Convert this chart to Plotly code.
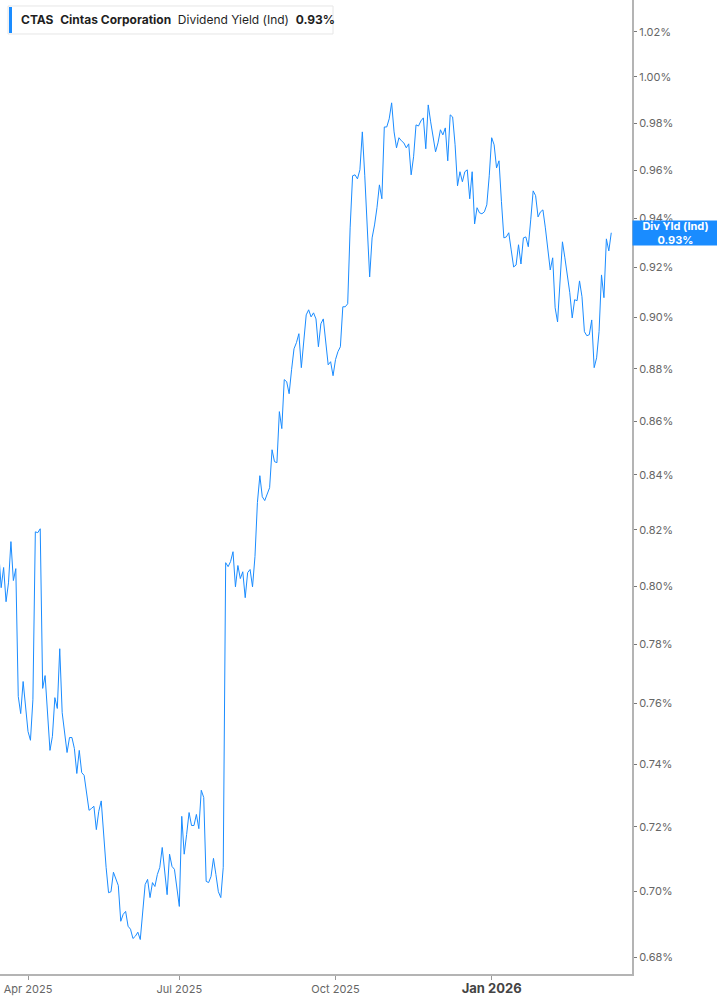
import numpy as np
import pandas as pd
import plotly.graph_objects as go

# US market holidays in the window (trading-day axis)
holidays = ['2025-04-18', '2025-05-26', '2025-06-19', '2025-07-04', '2025-09-01',
            '2025-11-27', '2025-12-25', '2026-01-01', '2026-01-19', '2026-02-16']
dates = pd.bdate_range('2025-03-14', '2026-03-16', freq='C', holidays=holidays)

# dividend yield (%), one value per trading day
div_yield = [
    0.8120, 0.7995, 0.8066, 0.7946, 0.8012, 0.8158, 0.8020, 0.8062, 0.7623, 0.7566,
    0.7673, 0.7589, 0.7507, 0.7478, 0.7612, 0.8193, 0.8190, 0.8204, 0.7650, 0.7693,
    0.7569, 0.7445, 0.7491, 0.7619, 0.7583, 0.7784, 0.7569, 0.7504, 0.7438, 0.7487,
    0.7487, 0.7451, 0.7370, 0.7445, 0.7373, 0.7364, 0.7309, 0.7252, 0.7258, 0.7265,
    0.7191, 0.7249, 0.7282, 0.7160, 0.7073, 0.6995, 0.6998, 0.7058, 0.7039, 0.7017,
    0.6908, 0.6929, 0.6938, 0.6893, 0.6884, 0.6856, 0.6863, 0.6875, 0.6853, 0.6950,
    0.7020, 0.7036, 0.6980, 0.7026, 0.7014, 0.7051, 0.7073, 0.7135, 0.7058, 0.6989,
    0.7114, 0.7076, 0.7067, 0.7005, 0.6953, 0.7233, 0.7114, 0.7176, 0.7245, 0.7204,
    0.7204, 0.7239, 0.7194, 0.7316, 0.7293, 0.7030, 0.7026, 0.7045, 0.7101, 0.7051,
    0.6998, 0.6980, 0.7073, 0.8083, 0.8069, 0.8087, 0.8122, 0.7998, 0.8073, 0.8027,
    0.8051, 0.7960, 0.8048, 0.8059, 0.7998, 0.8105, 0.8299, 0.8397, 0.8320, 0.8306,
    0.8331, 0.8353, 0.8493, 0.8449, 0.8445, 0.8636, 0.8572, 0.8758, 0.8750, 0.8704,
    0.8796, 0.8877, 0.8901, 0.8936, 0.8804, 0.8912, 0.9010, 0.9030, 0.9002, 0.9018,
    0.8994, 0.8885, 0.8975, 0.8994, 0.8905, 0.8815, 0.8827, 0.8773, 0.8835, 0.8866,
    0.8885, 0.9042, 0.9042, 0.9054, 0.9360, 0.9576, 0.9580, 0.9563, 0.9601, 0.9762,
    0.9576, 0.9360, 0.9161, 0.9319, 0.9372, 0.9443, 0.9538, 0.9480, 0.9783, 0.9783,
    0.9818, 0.9887, 0.9762, 0.9694, 0.9737, 0.9724, 0.9715, 0.9694, 0.9711, 0.9580,
    0.9656, 0.9792, 0.9787, 0.9809, 0.9822, 0.9690, 0.9878, 0.9805, 0.9749, 0.9677,
    0.9715, 0.9771, 0.9749, 0.9779, 0.9639, 0.9835, 0.9826, 0.9707, 0.9534, 0.9593,
    0.9551, 0.9593, 0.9601, 0.9480, 0.9593, 0.9376, 0.9443, 0.9422, 0.9418, 0.9426,
    0.9455, 0.9576, 0.9737, 0.9707, 0.9609, 0.9639, 0.9468, 0.9319, 0.9323, 0.9340,
    0.9270, 0.9201, 0.9209, 0.9291, 0.9213, 0.9319, 0.9323, 0.9283, 0.9393, 0.9513,
    0.9493, 0.9405, 0.9426, 0.9434, 0.9360, 0.9262, 0.9189, 0.9238, 0.9038, 0.8982,
    0.9169, 0.9303, 0.9238, 0.9161, 0.9098, 0.8998, 0.9070, 0.9066, 0.9145, 0.9082,
    0.8944, 0.8928, 0.8932, 0.8990, 0.8804, 0.8842, 0.8944, 0.9169, 0.9078, 0.9315,
    0.9266, 0.9340,
]

y_ticks = [0.68, 0.70, 0.72, 0.74, 0.76, 0.78, 0.80, 0.82, 0.84, 0.86,
           0.88, 0.90, 0.92, 0.94, 0.96, 0.98, 1.00, 1.02]
x_ticks = ['2025-04-01', '2025-07-01', '2025-10-01', '2026-01-02']
x_labels = ['Apr 2025', 'Jul 2025', 'Oct 2025',
            '<span style="font-size:13px;color:#444"><b>Jan 2026</b></span>']

BLUE = '#1a8cff'
W, H = 717, 1005
PW, PH = 632, 974.5  # plot area in px

fig = go.Figure(go.Scatter(
    x=dates, y=div_yield, mode='lines',
    line=dict(color=BLUE, width=1),
    hoverinfo='skip',
))

fig.update_layout(
    width=W, height=H,
    margin=dict(l=0, r=W - PW, t=0, b=H - PH),
    paper_bgcolor='white', plot_bgcolor='white',
    font=dict(family='Inter, Roboto, sans-serif', color='#666666', size=11),
    showlegend=False,
)

fig.update_xaxes(
    range=['2025-03-14 12:29', '2026-03-26 12:00'],
    rangebreaks=[dict(bounds=['sat', 'mon']), dict(values=holidays)],
    tickvals=x_ticks, ticktext=x_labels,
    showgrid=False, zeroline=False,
    showline=True, linecolor='#b4b4b4', linewidth=2,
    ticks='outside', ticklen=4, tickcolor='#999999',
    tickfont=dict(size=11, color='#666666'),
)

fig.update_yaxes(
    type='log', side='right',
    range=[-0.17068, 0.01463],
    tickvals=y_ticks, ticktext=['%.2f%%' % v for v in y_ticks],
    showgrid=False, zeroline=False,
    showline=True, linecolor='#b4b4b4', linewidth=2,
    ticks='outside', ticklen=3, tickcolor='#777777',
    tickfont=dict(size=11, color='#666666'),
)

# header "legend" box
fig.add_shape(type='rect', xref='paper', yref='paper',
              x0=8 / PW, x1=333 / PW, y0=1 - 34 / PH, y1=1 - 6 / PH,
              line=dict(color='#e6e6e6', width=1), fillcolor='white')
fig.add_shape(type='rect', xref='paper', yref='paper',
              x0=9 / PW, x1=12 / PW, y0=1 - 33 / PH, y1=1 - 7 / PH,
              line=dict(width=0), fillcolor=BLUE)
fig.add_annotation(
    xref='paper', yref='paper', x=19 / PW, y=1 - 20 / PH,
    xanchor='left', yanchor='middle', showarrow=False,
    text='<b>CTAS</b>\u00a0 <b>Cintas Corporation</b>\u00a0 '
         'Dividend Yield (Ind)\u00a0 <b>%.2f%%</b>' % div_yield[-1],
    font=dict(size=12, color='#1f1f1f', family='Inter, sans-serif'),
)

# last value tag on the right axis
fig.add_annotation(
    xref='paper', yref='y', x=1, y=np.log10(div_yield[-1]),
    xanchor='left', yanchor='middle', showarrow=False,
    text='<b>Div Yld (Ind)</b><br><b>%.2f%%</b>' % div_yield[-1],
    font=dict(size=11, color='white', family='Inter, sans-serif'),
    bgcolor=BLUE, width=85, height=24, borderpad=0, align='center',
)

# the page body has a default 8px margin; drop it so the chart fills the window
fig.write_html('out.html', config={'displayModeBar': False},
               post_script="document.body.style.margin='0';")
